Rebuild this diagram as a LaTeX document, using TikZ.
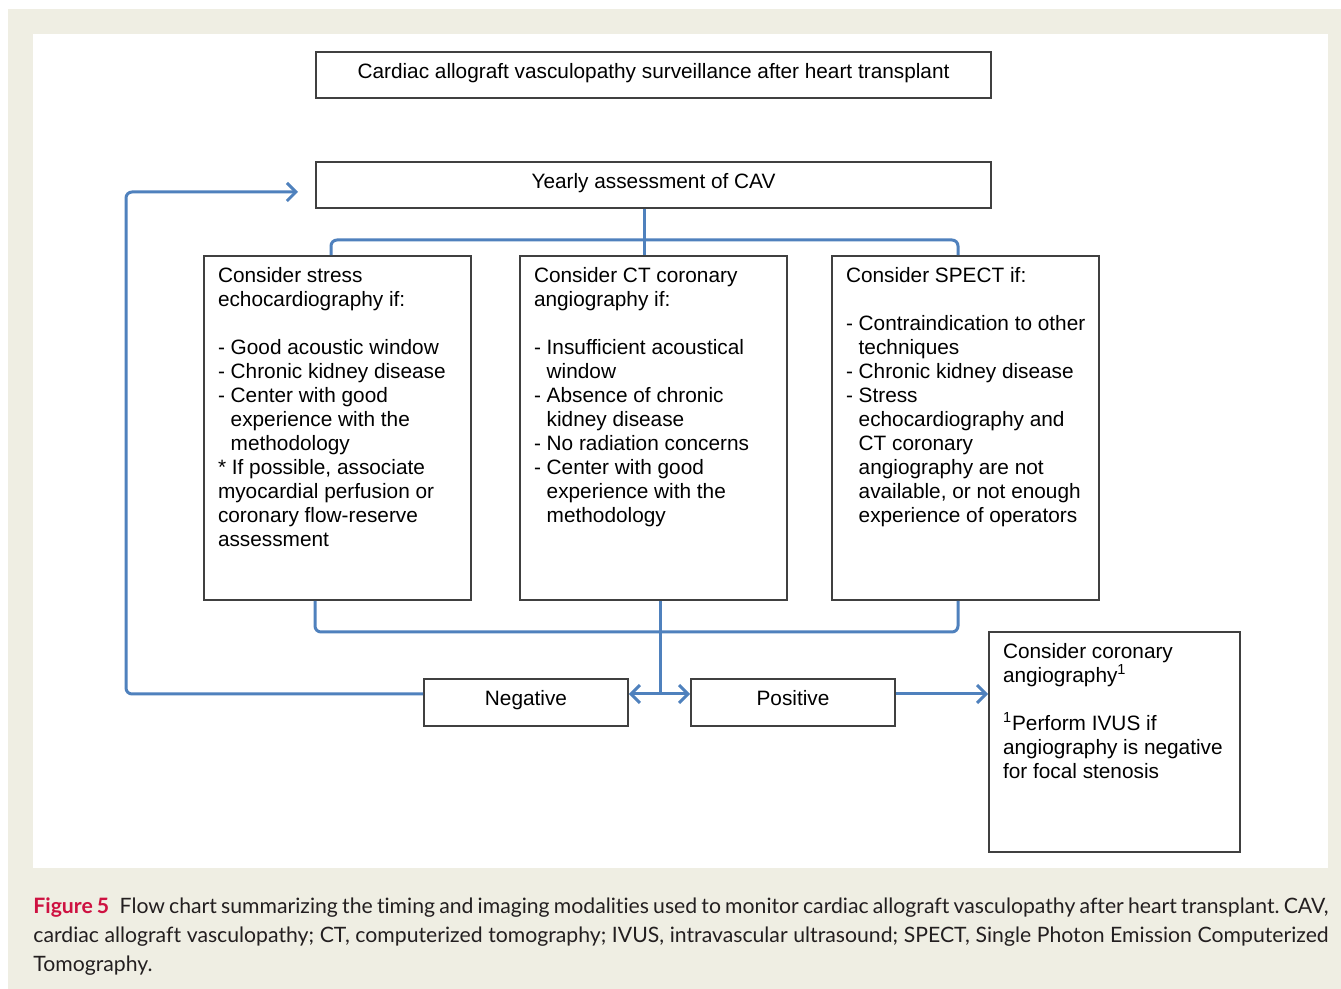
\documentclass[tikz,border=0pt]{standalone}
\usepackage{fontspec}
\setmainfont{Liberation Sans}
\newfontfamily\capfont[Ligatures=NoCommon]{Lato}
\usetikzlibrary{arrows.meta}
\definecolor{cblue}{RGB}{79,129,189}
\definecolor{beige}{RGB}{239,238,227}
\definecolor{bordergray}{RGB}{64,64,64}
\definecolor{figred}{RGB}{206,17,65}
\definecolor{captext}{RGB}{35,31,32}
\newcommand\tbl[3]{\parbox[t][#2][t]{#1}{\raggedright\leftskip=7pt\relax #3}}
\newcommand\tbc[3]{\parbox[t][#2][t]{#1}{\centering #3}}
\newcommand\ind{\phantom{- }}
\tikzset{
  box/.style={draw=bordergray, line width=0.8pt, fill=white, inner xsep=0pt, inner ysep=5.5pt,
              font=\fontsize{10.4}{12}\selectfont},
  conn/.style={draw=cblue, line width=1.5pt},
  arr/.style={-{Straight Barb[length=4.5pt,width=9pt]}}
}
\begin{document}
\begin{tikzpicture}[x=0.5pt,y=-0.5pt]
\useasboundingbox (0,0) rectangle (1341,989);
\fill[white] (0,0) rectangle (1341,989);
\fill[beige] (8,9) rectangle (1341,989);
\fill[white] (33,34) rectangle (1328,868);

\node[box] (title) at (653.5,75) {\tbc{337.5pt}{12pt}{Cardiac allograft vasculopathy surveillance after heart transplant}};
\node[box] (yearly) at (653.5,185) {\tbc{337.5pt}{12pt}{Yearly assessment of CAV}};

\node[box] (b1) at (337.5,428) {\tbl{133.5pt}{161pt}{Consider stress\\ echocardiography if:\\[12pt] - Good acoustic window\\ - Chronic kidney disease\\ - Center with good\\ \ind experience with the\\ \ind methodology\\ \relax * If possible, associate\\ myocardial perfusion or\\ coronary flow-reserve\\ assessment}};
\node[box] (b2) at (653.5,428) {\tbl{133.5pt}{161pt}{Consider CT coronary\\ angiography if:\\[12pt] - Insufficient acoustical\\ \ind window\\ - Absence of chronic\\ \ind kidney disease\\ - No radiation concerns\\ - Center with good\\ \ind experience with the\\ \ind methodology}};
\node[box] (b3) at (965.5,428) {\tbl{133.5pt}{161pt}{Consider SPECT if:\\[12pt] - Contraindication to other\\ \ind techniques\\ - Chronic kidney disease\\ - Stress\\ \ind echocardiography and\\ \ind CT coronary\\ \ind angiography are not\\ \ind available, or not enough\\ \ind experience of operators}};

\node[box] (neg) at (526,702.5) {\tbc{102pt}{12.5pt}{Negative}};
\node[box] (pos) at (793,702.5) {\tbc{102pt}{12.5pt}{Positive}};
\node[box] (final) at (1114.5,742) {\tbl{125.5pt}{99pt}{Consider coronary\\ angiography\textsuperscript{1}\\[12pt] \textsuperscript{1}Perform IVUS if\\ angiography is negative\\ for focal stenosis}};

\coordinate (jt) at (644,240);
\coordinate (tl) at (331,240);
\coordinate (tr) at (958,240);
\coordinate (bl) at (315,632);
\coordinate (br) at (958,632);
\coordinate (sp) at (660,694);
\coordinate (lb) at (126,694);
\coordinate (lt) at (126,192);
\coordinate (le) at (298,192);

\draw[conn] (yearly.south -| jt) -- (b2.north -| jt);
\draw[conn, rounded corners=3pt] (b1.north -| tl) -- (tl) -- (tr) -- (b3.north -| tr);
\draw[conn, rounded corners=3pt] (b1.south -| bl) -- (bl) -- (br) -- (b3.south -| br);
\draw[conn] (b2.south -| sp) -- (sp);
\draw[conn, arr] (sp) -- (sp -| neg.east);
\draw[conn, arr] (sp) -- (sp -| pos.west);
\draw[conn, arr] (sp -| pos.east) -- (sp -| final.west);
\draw[conn, arr, rounded corners=3pt] (sp -| neg.west) -- (lb) -- (lt) -- (le);

\node[anchor=north west, inner sep=0pt, align=left, text=captext,
      font=\capfont\fontsize{10.6}{14.5}\selectfont\frenchspacing] (cap) at (33,897)
  {\hbox to 647.5pt{{\color{figred}\bfseries Figure 5}\hspace{0.5em}Flow chart summarizing the timing and imaging modalities used to monitor cardiac allograft vasculopathy after heart transplant. CAV,}\\
   \hbox to 647.5pt{cardiac allograft vasculopathy; CT, computerized tomography; IVUS, intravascular ultrasound; SPECT, Single Photon Emission Computerized}\\
   Tomography.};
\end{tikzpicture}
\end{document}
